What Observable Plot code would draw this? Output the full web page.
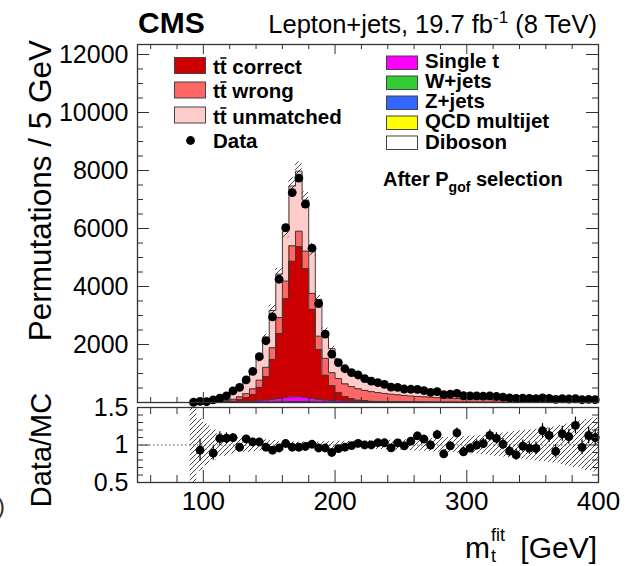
<!DOCTYPE html>
<html><head><meta charset="utf-8">
<script src="https://cdn.jsdelivr.net/npm/d3@7"></script>
<script src="https://cdn.jsdelivr.net/npm/@observablehq/plot@0.6"></script>
<style>
html,body{margin:0;padding:0;background:#fff;}
#wrap{position:relative;width:634px;height:566px;overflow:hidden;background:#fff;}
#wrap svg{position:absolute;left:0;}
</style></head><body><div id="wrap"></div>
<script>
// ---- data: 5 GeV bins from 90 to 400 GeV (bin low edges) ----
const binLo = d3.range(90, 400, 5);
const dataCounts = [8,40,26,90,150,230,400,520,780,1070, 1580,2130,2950,4250,6030,7240,7740,6840,5320,3410,
  2360,1670,1378,1164,1030,949,820,735,685,623, 533,525,465,457,454,407,352,376,273,287,
  316,232,230,226,217,227,207,182,156,140, 151,139,132,156,141,109,130,120,130,95, 106,99];
const ttCorrect = [0,0,1,2,5,12,30,70,130,230, 460,810,1380,2240,3410,4680,5170,4430,3070,1720,
  860,520,290,150,80,40,20,10,5,3, 2,1,1,0,0,0,0,0,0,0, 0,0,0,0,0,0,0,0,0,0, 0,0,0,0,0,0,0,0,0,0, 0,0];
const ttWrong = [3,6,10,16,25,40,65,100,140,190, 250,320,400,550,610,530,540,610,550,460,
  580,440,480,440,420,390,360,330,305,280, 260,240,220,205,190,178,166,155,145,135,
  126,118,110,105,100,95,90,85,81,77, 73,70,66,63,60,57,54,52,49,47, 45,43];
const ttUnmatched = [21,35,50,78,101,148,252,342,418,563, 747,982,1284,1499,1724,2062,2071,1760,1503,1264,
  936,829,624,560,494,458,403,361,324,293, 267,245,227,211,197,182,170,161,152,143,
  135,127,120,113,105,99,93,88,83,78, 74,69,67,63,60,57,54,52,50,47, 45,43];
const singleTop = [1,2,3,4,6,9,14,20,28,38, 52,70,90,115,140,160,165,150,120,90,
  68,55,47,42,38,35,31,28,26,24, 22,20,18,16,15,14,13,12,11,10,
  9,8,8,7,7,6,6,6,5,5, 5,5,4,4,4,4,4,3,3,3, 3,3];
const wJets = [0,0,0.6,0.6,0.6,1.2,1.8,2.4,3.6,4.8, 6,8.4,10.8,13.8,16.8,19.2,19.8,18,14.4,10.8,
  8.4,6.6,5.4,4.8,4.8,4.2,3.6,3.6,3,3, 2.4,2.4,2.4,1.8,1.8,1.8,1.8,1.2,1.2,1.2,
  1.2,1.2,1.2,0.6,0.6,0.6,0.6,0.6,0.6,0.6, 0.6,0.6,0.6,0.6,0.6,0.6,0.6,0.6,0.6,0.6, 0.6,0.6];
const zJets = [0,0,0.1,0.1,0.1,0.2,0.4,0.5,0.7,1, 1.2,1.7,2.2,2.8,3.4,3.8,4,3.6,2.9,2.2,
  1.7,1.3,1.1,1,1,0.8,0.7,0.7,0.6,0.6, 0.5,0.5,0.5,0.4,0.4,0.4,0.4,0.2,0.2,0.2,
  0.2,0.2,0.2,0.1,0.1,0.1,0.1,0.1,0.1,0.1, 0.1,0.1,0.1,0.1,0.1,0.1,0.1,0.1,0.1,0.1, 0.1,0.1];
const qcdMultijet = [0,0,0.3,0.3,0.3,0.5,0.8,1,1.5,2, 2.5,3.5,4.5,5.8,7,8,8.2,7.5,6,4.5,
  3.5,2.8,2.2,2,2,1.8,1.5,1.5,1.2,1.2, 1,1,1,0.8,0.8,0.8,0.8,0.5,0.5,0.5,
  0.5,0.5,0.5,0.3,0.3,0.3,0.3,0.3,0.3,0.3, 0.3,0.3,0.3,0.3,0.3,0.3,0.3,0.3,0.3,0.3, 0.3,0.3];
const diboson = [0,0,0,0,0,0.1,0.1,0.1,0.2,0.2, 0.3,0.4,0.5,0.6,0.8,1,1,0.9,0.7,0.5,
  0.4,0.3,0.3,0.2,0.2,0.2,0.2,0.2,0.2,0.2, 0.1,0.1,0.1,0.1,0.1,0.1,0.1,0.1,0.1,0.1,
  0.1,0.1,0.1,0.1,0.1,0.1,0.1,0.1,0.1,0.1, 0.1,0.1,0.1,0.1,0.1,0.1,0.1,0.1,0.1,0.1, 0.1,0.1];
// relative MC uncertainty (hatched band)
const mcRelUnc = [0.6,0.35,0.28,0.2,0.15,0.15,0.12,0.1,0.1,0.09, 0.08,0.07,0.06,0.045,0.04,0.04,0.04,0.04,0.04,0.04,
  0.045,0.045,0.05,0.05,0.05,0.05,0.05,0.06,0.06,0.065, 0.065,0.07,0.07,0.075,0.08,0.085,0.09,0.095,0.1,0.1,
  0.11,0.11,0.12,0.12,0.13,0.14,0.15,0.16,0.17,0.18, 0.19,0.2,0.21,0.22,0.23,0.24,0.26,0.28,0.3,0.32, 0.34,0.36];

const yTicksMain = [2000,4000,6000,8000,10000,12000];
const yTicksRatio = [0.5,1,1.5];
const xTickLabels = [100,200,300,400];

// ---- layout ----
const FONT = '"Liberation Sans", Arial, Helvetica, sans-serif';
const X0 = 50, X1 = 400, YMAX = 12345;
const L = 137, R = 598, MT = 44, MB = 402;
const xpp = (X1 - X0) / (R - L);
const ypp = YMAX / (MB - MT);
const TICK = "#333";

const layers = [
  {vals: diboson, fill: "#ffffff"},
  {vals: qcdMultijet, fill: "#ffff00"},
  {vals: zJets, fill: "#3366ff"},
  {vals: wJets, fill: "#33cc33"},
  {vals: singleTop, fill: "#ff00ff"},
  {vals: ttCorrect, fill: "#cc0000"},
  {vals: ttWrong, fill: "#ff6666"},
  {vals: ttUnmatched, fill: "#ffcccc"}
];
const rowsByLayer = layers.map(() => []);
const stepPts = [];
const mc = [];
binLo.forEach((lo, i) => {
  let base = 0;
  layers.forEach((ly, k) => {
    const top = base + ly.vals[i];
    rowsByLayer[k].push({x1: lo, x2: lo + 5, y1: base, y2: top});
    base = top;
  });
  mc.push(base);
});
layers.forEach((ly, k) => {
  stepPts.push({k, x: binLo[0], y: 0});
  binLo.forEach((lo, i) => {
    stepPts.push({k, x: lo, y: rowsByLayer[k][i].y2});
    stepPts.push({k, x: lo + 5, y: rowsByLayer[k][i].y2});
  });
});
const bins = binLo.map((lo, i) => ({
  lo, hi: lo + 5, c: lo + 2.5, d: dataCounts[i], mc: mc[i], u: mcRelUnc[i],
  r: dataCounts[i] / mc[i], re: Math.sqrt(dataCounts[i]) / mc[i]
}));

function defs(id, size, sw) {
  return () => {
    const ns = "http://www.w3.org/2000/svg";
    const d = document.createElementNS(ns, "defs");
    d.innerHTML = `<pattern id="${id}" patternUnits="userSpaceOnUse" width="${size}" height="${size}">
      <path d="M-1,1 L1,-1 M0,${size} L${size},0 M${size-1},${size+1} L${size+1},${size-1}" stroke="#333" stroke-width="${sw}"/></pattern>`;
    return d;
  };
}

function ticksX(majors, minors, yLo, yHi, lenMaj, lenMin, yscale) {
  return [
    Plot.ruleX(majors, {y1: yLo, y2: yLo + lenMaj * yscale, stroke: TICK}),
    Plot.ruleX(minors, {y1: yLo, y2: yLo + lenMin * yscale, stroke: TICK}),
    Plot.ruleX(majors, {y1: yHi - lenMaj * yscale, y2: yHi, stroke: TICK}),
    Plot.ruleX(minors, {y1: yHi - lenMin * yscale, y2: yHi, stroke: TICK})
  ];
}
function ticksY(majors, minors, lenMaj, lenMin) {
  return [
    Plot.ruleY(majors, {x1: X0, x2: X0 + lenMaj * xpp, stroke: TICK}),
    Plot.ruleY(minors, {x1: X0, x2: X0 + lenMin * xpp, stroke: TICK}),
    Plot.ruleY(majors, {x1: X1 - lenMaj * xpp, x2: X1, stroke: TICK}),
    Plot.ruleY(minors, {x1: X1 - lenMin * xpp, x2: X1, stroke: TICK})
  ];
}
const xMaj = [100,200,300,400];
const xMin = d3.range(60, 400, 20).filter(v => v % 100 !== 0);

// ---- main panel ----
const mainPlot = Plot.plot({
  width: 634, height: 410,
  marginLeft: L, marginRight: 634 - R, marginTop: MT, marginBottom: 410 - MB,
  x: {domain: [X0, X1], axis: null},
  y: {domain: [0, YMAX]},
  style: {fontFamily: FONT, background: "transparent", color: "#000"},
  marks: [
    defs("hatchM", 5, 0.9),
    ...layers.map((ly, k) => Plot.rect(rowsByLayer[k], {x1: "x1", x2: "x2", y1: "y1", y2: "y2", fill: ly.fill, shapeRendering: "crispEdges"})),
    Plot.line(stepPts, {x: "x", y: "y", z: "k", stroke: "#3a3a3a", strokeWidth: 1}),
    Plot.rect(bins, {x1: "lo", x2: "hi", y1: d => d.mc * (1 - d.u), y2: d => d.mc * (1 + d.u), fill: "url(#hatchM)", clip: true}),
    Plot.ruleX(bins, {x: "c", y1: d => d.d - Math.sqrt(d.d), y2: d => d.d + Math.sqrt(d.d), stroke: "#000"}),
    Plot.dot(bins, {x: "c", y: "d", r: 4.4, fill: "#000", stroke: null}),
    ...ticksY(yTicksMain.concat([0]), d3.range(500, 12345, 500).filter(v => v % 2000 !== 0), 12, 6),
    ...ticksX(xMaj, xMin, 0, YMAX, 10, 5, ypp),
    Plot.axisY({ticks: yTicksMain, tickSize: 0, tickPadding: 9, fontSize: 25, tickFormat: d => String(d), label: null}),
    Plot.frame({stroke: "#333", strokeWidth: 1.3})
  ]
});
mainPlot.style.top = "0px";
document.getElementById("wrap").appendChild(mainPlot);

// ---- ratio panel (svg starts at y=380 so the "1.5" label is not clipped) ----
const RT = 27, RB = 102, RH = 186;
const rpp = 1 / (RB - RT);
const ratioPlot = Plot.plot({
  width: 634, height: RH,
  marginLeft: L, marginRight: 634 - R, marginTop: RT, marginBottom: RH - RB,
  x: {domain: [X0, X1]},
  y: {domain: [0.5, 1.5]},
  style: {fontFamily: FONT, background: "transparent", color: "#000"},
  marks: [
    defs("hatchR", 5, 0.9),
    Plot.ruleY([1], {x1: X0, x2: X1, stroke: "#555", strokeDasharray: "1.5,2.5"}),
    Plot.rect(bins, {x1: "lo", x2: "hi", y1: d => Math.max(0.5, 1 - d.u), y2: d => Math.min(1.5, 1 + d.u), fill: "url(#hatchR)", clip: true}),
    Plot.ruleX(bins, {x: "c", y1: d => d.r - d.re, y2: d => d.r + d.re, stroke: "#000", strokeWidth: 1.2, clip: true}),
    Plot.dot(bins.filter(d => d.r >= 0.5 && d.r <= 1.5), {x: "c", y: "r", r: 4.4, fill: "#000", stroke: null}),
    ...ticksY(yTicksRatio, d3.range(0.6, 1.45, 0.1).filter(v => Math.abs(v - 1) > 0.01), 12, 6),
    ...ticksX(xMaj, xMin, 0.5, 1.5, 12, 7, rpp),
    Plot.axisY({ticks: yTicksRatio, tickSize: 0, tickPadding: 9, fontSize: 25, tickFormat: d => String(d), label: null}),
    Plot.axisX({ticks: xTickLabels, tickSize: 0, tickPadding: 9, fontSize: 26, tickFormat: d => String(d), label: null}),
    Plot.frame({stroke: "#333", strokeWidth: 1.3})
  ]
});
ratioPlot.style.top = "380px";
document.getElementById("wrap").appendChild(ratioPlot);

// ---- text overlay: titles and legend ----
const ov = d3.select("#wrap").append("svg")
  .attr("width", 634).attr("height", 566)
  .style("top", "0px").style("font-family", FONT).style("pointer-events", "none");

ov.append("text").attr("x", 138).attr("y", 33).attr("font-size", 30).attr("font-weight", "bold").text("CMS");
const lum = ov.append("text").attr("x", 597).attr("y", 33).attr("font-size", 25.5).attr("text-anchor", "end");
lum.append("tspan").text("Lepton+jets, 19.7 fb");
lum.append("tspan").attr("dy", -10).attr("font-size", 17).text("-1");
lum.append("tspan").attr("dy", 10).text(" (8 TeV)");

function ttbar(x, y, size, rest) {
  const t = ov.append("text").attr("x", x).attr("y", y).attr("font-size", size).attr("font-weight", "bold");
  t.text("tt" + rest);
  const n = t.node();
  const w1 = n.getSubStringLength(0, 1), w2 = n.getSubStringLength(1, 1);
  ov.append("line").attr("x1", x + w1 + 0.5).attr("x2", x + w1 + w2 - 0.3)
    .attr("y1", y - size * 0.78).attr("y2", y - size * 0.78)
    .attr("stroke", "#000").attr("stroke-width", size * 0.075);
}
const legL = [
  {fill: "#cc0000", y: 57.5, base: 74, rest: " correct"},
  {fill: "#ff6666", y: 82, base: 98, rest: " wrong"},
  {fill: "#ffcccc", y: 107, base: 124, rest: " unmatched"}
];
legL.forEach(e => {
  ov.append("rect").attr("x", 174.5).attr("y", e.y).attr("width", 31).attr("height", 16)
    .attr("fill", e.fill).attr("stroke", "#444").attr("stroke-width", 1);
  ttbar(213, e.base, 20.5, e.rest);
});
ov.append("circle").attr("cx", 190.5).attr("cy", 140.5).attr("r", 4.4).attr("fill", "#000");
ov.append("text").attr("x", 213).attr("y", 148).attr("font-size", 20.5).attr("font-weight", "bold").text("Data");

const legR = [
  {fill: "#ff00ff", y: 56, base: 68, name: "Single t"},
  {fill: "#33cc33", y: 76, base: 88, name: "W+jets"},
  {fill: "#3366ff", y: 96, base: 108, name: "Z+jets"},
  {fill: "#ffff00", y: 116, base: 128, name: "QCD multijet"},
  {fill: "#ffffff", y: 136, base: 149, name: "Diboson"}
];
legR.forEach(e => {
  ov.append("rect").attr("x", 386.5).attr("y", e.y).attr("width", 31).attr("height", 13.5)
    .attr("fill", e.fill).attr("stroke", "#444").attr("stroke-width", 1);
  ov.append("text").attr("x", 425).attr("y", e.base).attr("font-size", 20.5).attr("font-weight", "bold").text(e.name);
});

const sel = ov.append("text").attr("x", 383).attr("y", 186).attr("font-size", 20).attr("font-weight", "bold");
sel.append("tspan").text("After P");
sel.append("tspan").attr("dy", 6).attr("font-size", 14).text("gof");
sel.append("tspan").attr("dy", -6).text(" selection");

ov.append("text").attr("transform", "translate(51,40) rotate(-90)").attr("text-anchor", "end")
  .attr("font-size", 31.5).text("Permutations / 5 GeV");
ov.append("text").attr("transform", "translate(51,450) rotate(-90)").attr("text-anchor", "middle")
  .attr("font-size", 29).text("Data/MC");

ov.append("text").attr("x", 465).attr("y", 558).attr("font-size", 30).text("m");
ov.append("text").attr("x", 491).attr("y", 562).attr("font-size", 18).text("t");
ov.append("text").attr("x", 491).attr("y", 541).attr("font-size", 18).text("fit");
ov.append("text").attr("x", 597).attr("y", 558).attr("font-size", 30).attr("text-anchor", "end").text("[GeV]");
ov.append("text").attr("x", -3).attr("y", 514).attr("font-size", 24).attr("fill", "#333").text(")");
</script></body></html>
